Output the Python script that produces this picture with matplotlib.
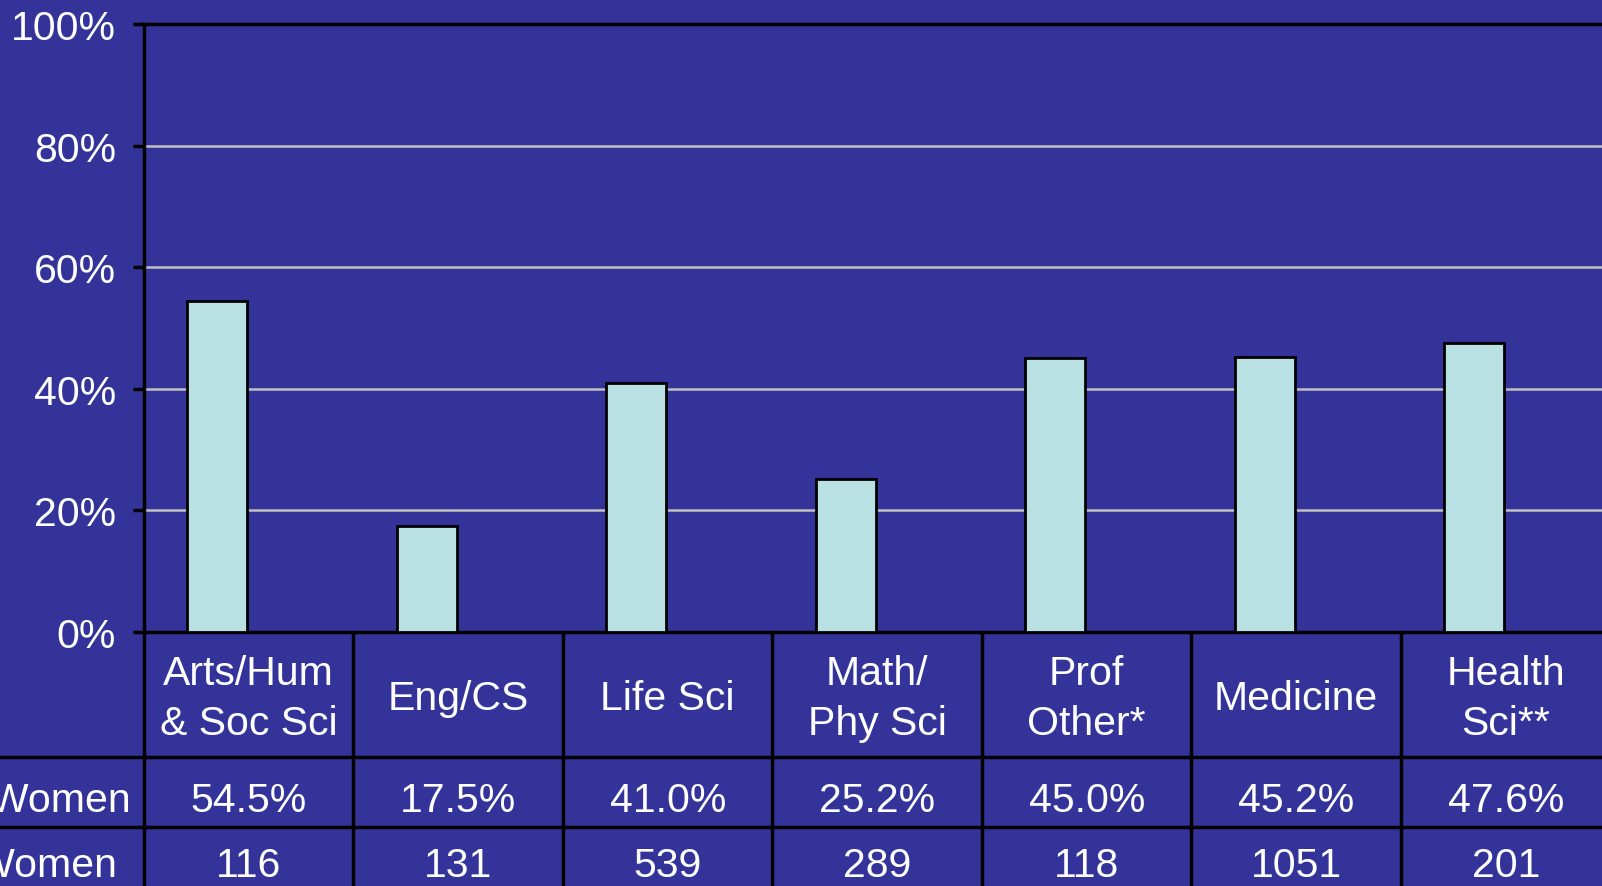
import matplotlib
matplotlib.use("Agg")
import matplotlib.pyplot as plt
from matplotlib.ticker import FuncFormatter

# Data
categories = ["Arts/Hum\n& Soc Sci", "Eng/CS", "Life Sci", "Math/\nPhy Sci",
              "Prof\nOther*", "Medicine", "Health\nSci**"]
pct_women = [54.5, 17.5, 41.0, 25.2, 45.0, 45.2, 47.6]
num_women = [116, 131, 539, 289, 118, 1051, 201]
row_labels = ["% Women", "# Women"]

BG = "#333399"
BAR = "#b9e0e2"
GRID = "#c0c0c0"
W, H = 1602, 887
COL = 209.5          # column width in pixels
X0 = 144             # left edge of plot area
Y0 = 633             # baseline (0%) in pixels from top
YTOP = 25
FS = 29.5
LW = 2.5

plt.rcParams['font.family'] = ['Liberation Sans', 'DejaVu Sans']

fig = plt.figure(figsize=(W / 100, H / 100), dpi=100, facecolor=BG)

# Bar chart area
ax = fig.add_axes([X0 / W, (H - Y0) / H, 7 * COL / W, (Y0 - YTOP) / H])
ax.set_facecolor(BG)
n = len(categories)
xs = [i + 0.35 for i in range(n)]
ax.bar(xs, pct_women, width=0.286, color=BAR, edgecolor="black",
       linewidth=2.0, zorder=3)
ax.set_xlim(0, n)
ax.set_ylim(0, 100)
ax.set_yticks(range(0, 101, 20))
ax.yaxis.set_major_formatter(FuncFormatter(lambda v, p: f"{v:.0f}%"))
ax.tick_params(axis='y', colors="black", labelcolor="white", labelsize=FS,
               length=8, width=LW, pad=12)
ax.set_xticks([])
ax.set_axisbelow(True)
ax.yaxis.grid(True, color=GRID, linewidth=1.8)
for side in ["left", "top", "bottom"]:
    ax.spines[side].set_color("black")
    ax.spines[side].set_linewidth(LW)
ax.spines["right"].set_visible(False)

# Data table below the chart
tax = fig.add_axes([0, 0, 1, (H - Y0) / H])
tax.set_facecolor(BG)
tax.set_xlim(-X0 / COL, (W - X0) / COL)
tax.set_ylim(H - Y0, 0)
tax.axis("off")

row_edges = [125, 195]
for i in range(n + 1):
    tax.plot([i, i], [0, H - Y0], color="black", linewidth=LW,
             solid_capstyle="butt")
for yb in row_edges:
    tax.plot([-X0 / COL, n], [yb, yb], color="black", linewidth=LW)

for i, cat in enumerate(categories):
    tax.text(i + 0.5, 66, cat, ha="center", va="center", color="white",
             fontsize=FS, linespacing=1.4)
    tax.text(i + 0.5, 168, f"{pct_women[i]:.1f}%", ha="center", va="center",
             color="white", fontsize=FS)
    tax.text(i + 0.5, 233, f"{num_women[i]}", ha="center", va="center",
             color="white", fontsize=FS)

for lbl, yc in zip(row_labels, [168, 233]):
    tax.text(-202 / COL, yc, lbl, ha="left", va="center", color="white",
             fontsize=FS)

fig.savefig("out.png", dpi=100, facecolor=BG)
